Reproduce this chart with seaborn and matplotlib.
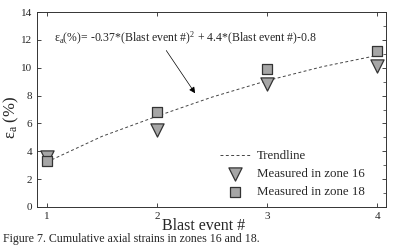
import matplotlib
matplotlib.use('Agg')
import matplotlib.pyplot as plt
import seaborn as sns
import pandas as pd

blast_event = [1, 2, 3, 4]
zone16 = [3.6, 5.5, 8.8, 10.1]
zone18 = [3.3, 6.8, 9.9, 11.2]
trend_x = [1, 1.5, 2, 2.5, 3, 3.5, 4]
trend_y = [3.23, 5.07, 6.52, 7.89, 9.07, 10.07, 10.88]

sns.set_style("ticks")
plt.rcParams['font.family'] = ['Liberation Serif', 'DejaVu Serif']
plt.rcParams['mathtext.fontset'] = 'stix'

fig = plt.figure(figsize=(3.93, 2.5), dpi=100)
ax = fig.add_axes([37 / 393, 43 / 250, 349 / 393, 195 / 250])

trend = pd.DataFrame({"x": trend_x, "y": trend_y})
sns.lineplot(data=trend, x="x", y="y", ax=ax, color="#444444", lw=0.7,
             linestyle=(0, (3, 2.5)), label="Trendline")
sns.scatterplot(x=blast_event, y=zone16, ax=ax, marker="v", s=90,
                color="#a6a6a6", edgecolor="#333333", linewidth=0.9,
                label="Measured in zone 16", zorder=3)
sns.scatterplot(x=blast_event, y=zone18, ax=ax, marker="s", s=50,
                color="#a6a6a6", edgecolor="#333333", linewidth=0.9,
                label="Measured in zone 18", zorder=3)

ax.set_xlim(0.91, 4.08)
ax.set_ylim(0, 14)
ax.set_xticks(blast_event)
ax.set_yticks(range(0, 15, 2))
ax.tick_params(direction="in", labelsize=8, length=3, width=0.6,
               top=True, right=True)
ax.set_yticks(range(0, 15), minor=True)
ax.tick_params(which="minor", direction="in", length=2, width=0.5,
               left=False, right=True)
for s in ax.spines.values():
    s.set_linewidth(0.7)
    s.set_color("#333333")

ax.set_xlabel("Blast event #", fontsize=11.5)
ax.xaxis.set_label_coords(0.478, -0.058)
ax.set_ylabel(r"$\mathregular{\varepsilon_a}$ (%)", fontsize=12)
ax.yaxis.set_label_coords(-0.045, 0.46)

ax.text(1.06, 12.1, r"$\mathregular{\varepsilon_a}$(%)= -0.37*(Blast event #)$\mathregular{^2}$"
        " + 4.4*(Blast event #)-0.8", fontsize=8.5, va="center")
ax.annotate("", xy=(2.36, 8.0), xytext=(2.07, 11.4),
            arrowprops=dict(arrowstyle="-|>", color="black", lw=0.5,
                            mutation_scale=9))

ax.legend(loc="lower right", bbox_to_anchor=(0.955, 0.02), frameon=False,
          fontsize=9.3, handlelength=2.4, handletextpad=0.5,
          labelspacing=0.45, borderaxespad=0)

fig.text(0.008, 0.02, "Figure 7. Cumulative axial strains in zones 16 and 18.",
         fontsize=8.6, ha="left", va="bottom")

fig.savefig("out.png", dpi=100)
